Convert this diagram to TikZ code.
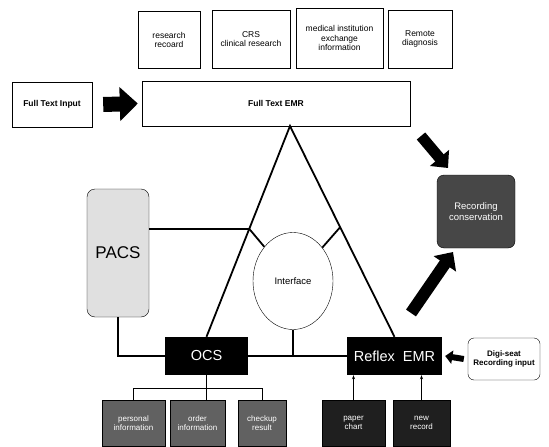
\documentclass[tikz,border=0pt]{standalone}
\usepackage{fontspec}
\setmainfont{Liberation Sans}
\usetikzlibrary{arrows.meta,positioning,calc,shapes.geometric}
\begin{document}
\begin{tikzpicture}[x=1pt,y=-1pt,
    box/.style={draw, thin, align=center, inner sep=1pt, font=\fontsize{8.5}{9.5}\selectfont},
    darkbox/.style={box, fill=black!62, text=white, font=\fontsize{8}{9.5}\selectfont},
    blackbox/.style={fill=black, text=white, inner sep=1pt, font=\fontsize{14.5}{15}\selectfont},
    link/.style={line width=1.8pt},
    fatarrow/.style={line width=#1, -{Triangle[length=1.2*#1, width=2.2*#1]}}]
    \useasboundingbox (0,0) rectangle (549,447);
    % top row
    \node[box, minimum width=62, minimum height=57] (research) at (169,40) {research\\recoard};
    \node[box, minimum width=78, minimum height=58] (crs) at (251,39) {CRS\\clinical research};
    \node[box, minimum width=87, minimum height=60] (medical) at (339.5,38) {medical institution\\exchange\\information};
    \node[box, minimum width=64, minimum height=58] (remote) at (420,39) {Remote\\diagnosis};
    \node[box, minimum width=80, minimum height=45, font=\fontsize{8.5}{9.5}\bfseries] (input) at (52,104.5) {Full Text Input};
    \node[box, minimum width=268, minimum height=45, font=\fontsize{8.5}{9.5}\bfseries] (emr) at (276,103.5) {Full Text EMR};
    % middle
    \node[box, rounded corners=8pt, fill=black!12, minimum width=62, minimum height=128,
          font=\fontsize{17}{18}\selectfont] (pacs) at (118,253) {PACS};
    \node[box, ellipse, minimum width=80, minimum height=97, font=\fontsize{9.5}{10}\selectfont] (interface) at (293,281) {Interface};
    \node[box, rounded corners=7pt, fill=black!72, text=white, minimum width=78, minimum height=73,
          font=\fontsize{9.5}{11}\selectfont] (record) at (476,211.5) {Recording\\conservation};
    \node[blackbox, minimum width=83, minimum height=38] (ocs) at (206.5,356) {OCS};
    \node[blackbox, minimum width=95, minimum height=38] (reflex) at (394.5,356) {Reflex\ \ EMR};
    \node[box, rounded corners=6pt, minimum width=72, minimum height=42, font=\fontsize{8}{9.5}\bfseries] (digi) at (504,359) {Digi-seat\\Recording input};
    % bottom row
    \node[darkbox, minimum width=63, minimum height=46] (personal) at (133.5,423) {personal\\information};
    \node[darkbox, minimum width=55, minimum height=46] (order) at (197.5,423) {order\\information};
    \node[darkbox, minimum width=48, minimum height=46] (checkup) at (262,423) {checkup\\result};
    \node[darkbox, fill=black!88, minimum width=63, minimum height=46] (paper) at (353.5,423) {paper\\chart};
    \node[darkbox, fill=black!88, minimum width=57, minimum height=46] (new) at (421.5,423) {new\\record};

    % triangle
    \coordinate (apex) at (290,126);
    \coordinate (jleft) at ($(apex)!0.488!(ocs.north)$);
    \coordinate (jright) at ($(apex)!0.48!(reflex.north)$);
    \draw[link] (ocs.north) -- (apex) -- (reflex.north);
    \draw[link] (jleft) -- (interface);
    \draw[link] (jright) -- (interface);
    \draw[link] (jleft) -- (jleft -| pacs.east);
    \draw[link] (pacs.south) |- (ocs.west);
    \draw[link] (ocs.east) -- (reflex.west);
    \draw[link] (interface.south) -- (interface.south |- ocs.east);

    % OCS tree
    \coordinate (tree) at ($(ocs.south)+(0,13)$);
    \draw[semithick] (ocs.south) -- (ocs.south |- order.north);
    \draw[semithick] (personal.north) |- (tree) -| (checkup.north);
    \draw[semithick, -{Stealth[length=4pt]}] (paper.north) -- (paper.north |- reflex.south);
    \draw[semithick, -{Stealth[length=4pt]}] (new.north) -- (new.north |- reflex.south);

    % fat arrows
    \draw[fatarrow=15pt] ($(input.east)+(11,0)$) -- ($(emr.west)+(-4,0)$);
    \draw[fatarrow=6pt] ($(digi.west)+(-4,0)$) -- ($(reflex.east)+(3,0)$);
    \coordinate (downfrom) at (421,136);
    \coordinate (downto) at (448,168);
    \draw[fatarrow=11pt] (downfrom) -- (downto);
    \coordinate (upfrom) at (411,313);
    \coordinate (upto) at (453,252);
    \draw[fatarrow=12pt] (upfrom) -- (upto);
\end{tikzpicture}
\end{document}
